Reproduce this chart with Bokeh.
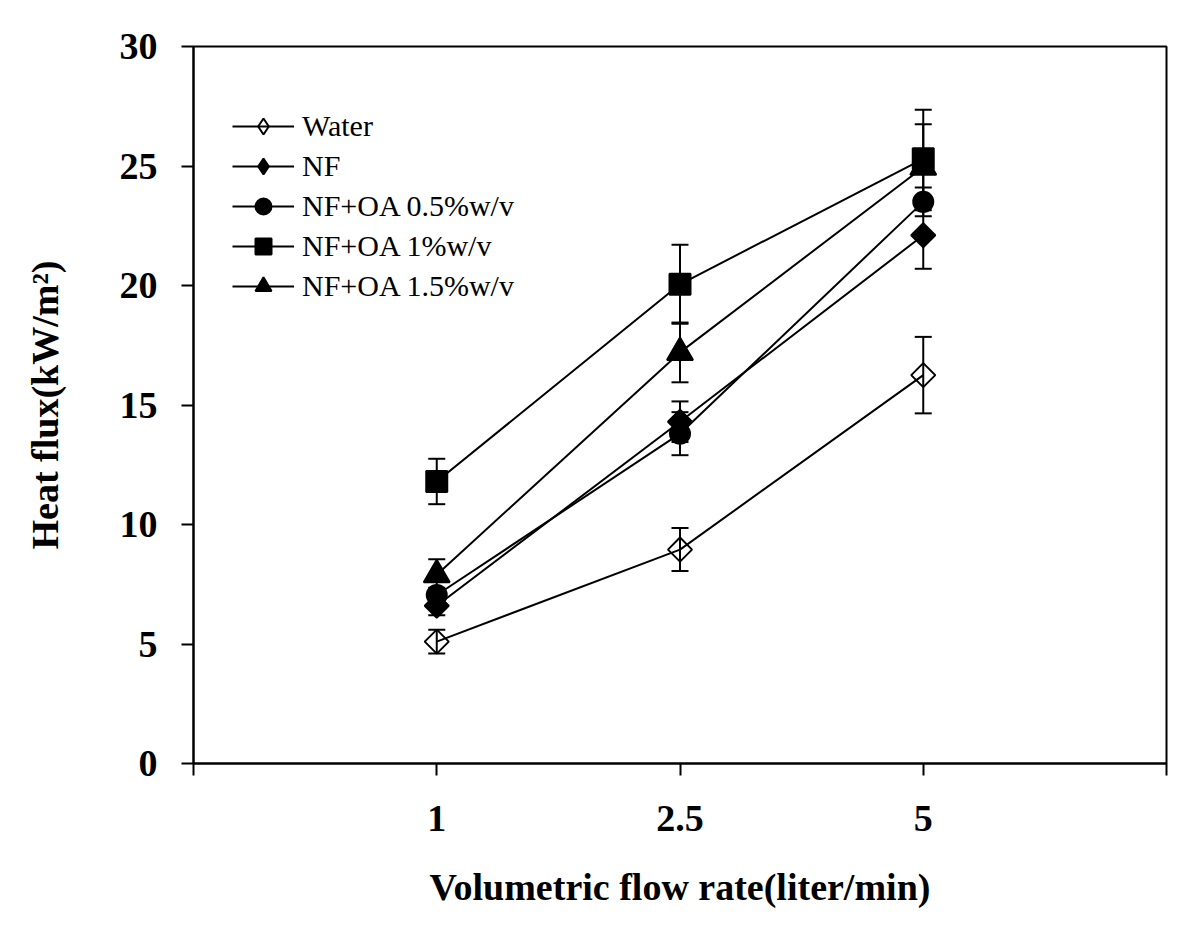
import math
from bokeh.plotting import figure
from bokeh.models import (ColumnDataSource, Whisker, TeeHead, FixedTicker, Legend, LegendItem, Range1d)
from bokeh.embed import file_html
from bokeh.resources import INLINE

flow_rates = ["1", "2.5", "5"]
series_names = ["Water", "NF", "NF+OA 0.5%w/v", "NF+OA 1%w/v", "NF+OA 1.5%w/v"]
water = [5.1, 8.95, 16.25]
nf = [6.6, 14.3, 22.1]
nf_oa_05 = [7.05, 13.8, 23.5]
nf_oa_1 = [11.8, 20.05, 25.3]
nf_oa_15 = [7.9, 17.2, 24.95]
water_err = [0.5, 0.9, 1.6]
nf_err = [0.4, 0.85, 1.4]
nf_oa_05_err = [0.3, 0.9, 0.6]
nf_oa_1_err = [0.95, 1.65, 2.05]
nf_oa_15_err = [0.65, 1.25, 1.8]

values = [water, nf, nf_oa_05, nf_oa_1, nf_oa_15]
errors = [water_err, nf_err, nf_oa_05_err, nf_oa_1_err, nf_oa_15_err]
markers = [
    dict(marker="square", size=17, angle=math.pi / 4, fill_alpha=0.0, legend_marker="diamond"),
    dict(marker="square", size=17, angle=math.pi / 4, fill_alpha=1.0, legend_marker="diamond"),
    dict(marker="circle", size=20, angle=0.0, fill_alpha=1.0, legend_marker=None),
    dict(marker="square", size=21, angle=0.0, fill_alpha=1.0, legend_marker=None),
    dict(marker="triangle", size=26, angle=0.0, fill_alpha=1.0, legend_marker=None),
]

FONT = "Liberation Serif"

p = figure(width=1180, height=928, output_backend="svg", toolbar_location=None,
           x_range=Range1d(0, len(flow_rates) + 1), y_range=Range1d(0, 30),
           min_border_left=193, min_border_right=14, min_border_top=46, min_border_bottom=165)
p.xgrid.visible = False
p.ygrid.visible = False
p.outline_line_color = "black"
p.outline_line_width = 2
p.background_fill_color = "white"
p.border_fill_color = "white"

xs = [i + 1 for i in range(len(flow_rates))]

items = []
for name, vals, errs, mk in zip(series_names, values, errors, markers):
    src = ColumnDataSource(dict(x=xs, y=vals,
                                upper=[v + e for v, e in zip(vals, errs)],
                                lower=[v - e for v, e in zip(vals, errs)]))
    w = Whisker(source=src, base="x", upper="upper", lower="lower", dimension="height",
                line_color="black", line_width=2,
                upper_head=TeeHead(size=17, line_width=2, line_color="black"),
                lower_head=TeeHead(size=17, line_width=2, line_color="black"))
    p.add_layout(w)
    ln = p.line("x", "y", source=src, line_color="black", line_width=2)
    sc = p.scatter("x", "y", source=src, marker=mk["marker"], size=mk["size"], angle=mk["angle"],
                   line_color="black", line_width=2, fill_color="black", fill_alpha=mk["fill_alpha"])
    if mk["legend_marker"]:
        # legend-only glyph (NaN data -> nothing drawn in the plot area)
        leg_src = ColumnDataSource(dict(x=[float("nan")], y=[float("nan")]))
        lsc = p.scatter("x", "y", source=leg_src, marker=mk["legend_marker"], size=mk["size"],
                        line_color="black", line_width=2, fill_color="black",
                        fill_alpha=mk["fill_alpha"])
        items.append(LegendItem(label=name, renderers=[ln, lsc]))
    else:
        items.append(LegendItem(label=name, renderers=[ln, sc]))

legend = Legend(items=items, location=(39, 457), padding=0, margin=0, spacing=0,
                glyph_width=62, glyph_height=40, label_height=30, label_standoff=8,
                label_text_font=FONT, label_text_font_size="30px", label_text_color="black",
                border_line_color=None, background_fill_alpha=0.0)
p.add_layout(legend)

# axes
p.xaxis.ticker = FixedTicker(ticks=[0] + xs + [len(flow_rates) + 1])
overrides = {0: "", len(flow_rates) + 1: ""}
for xv, lab in zip(xs, flow_rates):
    overrides[xv] = lab
p.xaxis.major_label_overrides = overrides
p.yaxis.ticker = FixedTicker(ticks=[0, 5, 10, 15, 20, 25, 30])

for ax in (p.xaxis[0], p.yaxis[0]):
    ax.axis_line_color = "black"
    ax.axis_line_width = 2
    ax.major_tick_line_color = "black"
    ax.major_tick_line_width = 2
    ax.major_tick_in = 0
    ax.major_tick_out = 12
    ax.minor_tick_line_color = None
    ax.major_label_text_font = FONT
    ax.major_label_text_font_style = "bold"
    ax.major_label_text_font_size = "38px"
    ax.major_label_text_color = "black"
    ax.axis_label_text_font = FONT
    ax.axis_label_text_font_style = "bold"
    ax.axis_label_text_font_size = "38px"
    ax.axis_label_text_color = "black"

p.xaxis.axis_label = "Volumetric flow rate(liter/min)"
p.yaxis.axis_label = "Heat flux(kW/m²)"
p.xaxis.major_label_standoff = 30
p.xaxis.axis_label_standoff = 32
p.yaxis.major_label_standoff = 24
p.yaxis.axis_label_standoff = 51

open("out.html", "w").write(file_html(p, INLINE))
